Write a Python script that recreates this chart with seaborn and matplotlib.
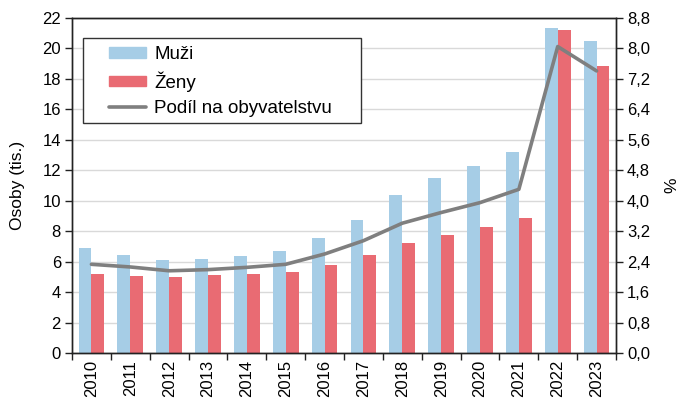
import numpy as np
import pandas as pd
import matplotlib
matplotlib.use("Agg")
import matplotlib.pyplot as plt
from matplotlib.ticker import FuncFormatter, MultipleLocator, FixedLocator
from matplotlib.patches import Patch, Rectangle
from matplotlib.lines import Line2D
import seaborn as sns

years = [str(y) for y in range(2010, 2024)]
muzi = [6.87, 6.43, 6.10, 6.18, 6.34, 6.69, 7.53, 8.73, 10.35, 11.47, 12.30, 13.22, 21.32, 20.46]
zeny = [5.18, 5.05, 4.98, 5.09, 5.18, 5.31, 5.77, 6.41, 7.22, 7.74, 8.25, 8.84, 21.23, 18.88]
podil = [2.33, 2.26, 2.16, 2.19, 2.25, 2.33, 2.60, 2.95, 3.41, 3.69, 3.95, 4.30, 8.05, 7.41]

c_muzi = "#a6cde6"
c_zeny = "#e96b73"
c_line = "#7f7f7f"

sns.set_theme(style="white")
plt.rcParams["font.family"] = ["Liberation Sans", "DejaVu Sans"]
plt.rcParams["text.color"] = "black"
plt.rcParams["xtick.color"] = "black"
plt.rcParams["ytick.color"] = "black"
plt.rcParams["axes.labelcolor"] = "black"

df = pd.DataFrame({
    "rok": years * 2,
    "osoby": muzi + zeny,
    "pohlavi": ["Muži"] * len(years) + ["Ženy"] * len(years),
})

fig = plt.figure(figsize=(6.83, 4.03), dpi=100)
ax = fig.add_axes([72 / 683, 1 - 353 / 403, (616 - 72) / 683, (353 - 18) / 403])

sns.barplot(data=df, x="rok", y="osoby", hue="pohlavi",
            palette={"Muži": c_muzi, "Ženy": c_zeny},
            width=0.66, saturation=1, linewidth=0, ax=ax, legend=False)

ax.set_xlim(-0.5, len(years) - 0.5)
ax.set_ylim(0, 22)
ax.yaxis.set_major_locator(MultipleLocator(2))
ax.grid(axis="y", color="#d9d9d9", linewidth=1)
ax.set_axisbelow(True)
ax.set_xlabel("")
ax.set_ylabel("Osoby (tis.)", fontsize=12.5, labelpad=12)

ax.set_xticks(range(len(years)))
ax.set_xticklabels(years, rotation=90, fontsize=12)
ax.xaxis.set_minor_locator(FixedLocator(np.arange(-0.5, len(years), 1)))
ax.tick_params(axis="x", which="major", length=0, pad=5)
ax.tick_params(axis="x", which="minor", length=5, width=1, color="#222222", direction="out", bottom=True)
ax.tick_params(axis="y", length=5, width=1, color="#222222", direction="out", left=True, labelsize=12, pad=3)

ax2 = ax.twinx()
sns.lineplot(x=np.arange(len(years)), y=podil, color=c_line, linewidth=2.6, ax=ax2)
ax2.set_ylim(0, 8.8)
ax2.yaxis.set_major_locator(MultipleLocator(0.8))
ax2.yaxis.set_major_formatter(FuncFormatter(lambda v, p: f"{v:.1f}".replace(".", ",")))
ax2.tick_params(axis="y", length=5, width=1, color="#222222", direction="out", right=True, labelsize=12, pad=3)
ax2.set_ylabel("%", fontsize=12.5, labelpad=10)
ax2.set_xlim(-0.5, len(years) - 0.5)

for a in (ax, ax2):
    for s in a.spines.values():
        s.set_color("#222222")
        s.set_linewidth(1)

# legend frame (Excel-like, wide side padding)
ax2.add_patch(Rectangle((11 / 544, 230 / 335), 278 / 544, 85 / 335, transform=ax2.transAxes,
                        facecolor="white", edgecolor="#333333", linewidth=1, zorder=4))
handles = [Patch(color=c_muzi, label="Muži"),
           Patch(color=c_zeny, label="Ženy"),
           Line2D([], [], color=c_line, linewidth=2.6, label="Podíl na obyvatelstvu")]
leg = ax2.legend(handles=handles, loc="upper left", bbox_to_anchor=(37 / 544, 1 - 28 / 335),
                 frameon=False, fontsize=13.5, handlelength=1.97, handleheight=0.48,
                 borderpad=0, labelspacing=0.45, handletextpad=0.45, borderaxespad=0)
leg.set_zorder(5)

fig.savefig("out.png", dpi=100)
